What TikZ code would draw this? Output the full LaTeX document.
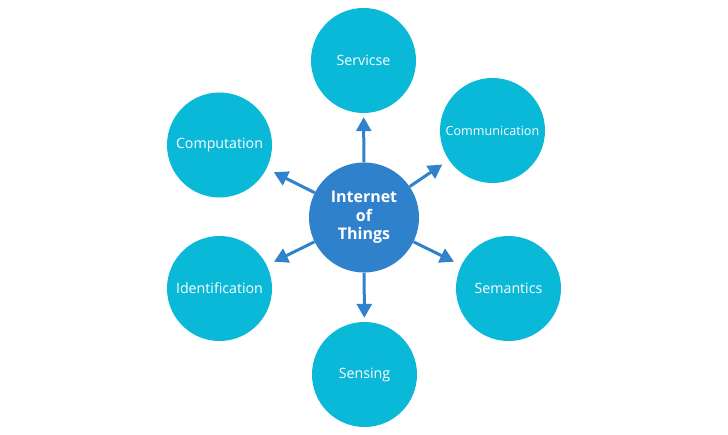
\documentclass[tikz,border=0pt]{standalone}
\usepackage{fontspec}
\setmainfont{Open Sans}
\usetikzlibrary{arrows.meta}
\definecolor{outerc}{HTML}{0AB8D8}
\definecolor{innerc}{HTML}{2F81CC}
\definecolor{arrc}{HTML}{3281CC}
\begin{document}
\begin{tikzpicture}[x=1pt,y=-1pt,
  outer/.style={circle,fill=outerc,minimum size=105pt,inner sep=0pt,text=white,font=\fontsize{14.2}{16}\selectfont},
  inner/.style={circle,fill=innerc,minimum size=110pt,inner sep=0pt,text=white,align=center,font=\fontsize{16}{18.5}\selectfont\bfseries},
  arr/.style={draw=arrc,line width=3pt,-{Triangle[length=14pt,width=15pt]}}]
\useasboundingbox (0,0) rectangle (728,435);
\node[inner] (c) at (364,217.5) {Internet\\of\\Things};
\node[outer] (serv) at (363.5,60.5) {Servicse};
\node[outer,font=\fontsize{12.6}{15}\selectfont] (comm) at (492.5,130.5) {Communication};
\node[outer] (sem) at (508.5,288.5) {Semantics};
\node[outer] (sens) at (364.5,374.5) {Sensing};
\node[outer] (ident) at (219.5,288.5) {Identification};
\node[outer] (comp) at (219.5,145) {Computation};
\draw[arr,shorten >=4pt] (c) -- (serv);
\draw[arr,shorten >=4pt] (c) -- (sens);
\draw[arr,shorten >=8pt] (c) -- (comm);
\draw[arr,shorten >=8pt] (c) -- (sem);
\draw[arr,shorten >=8pt] (c) -- (ident);
\draw[arr,shorten >=8pt] (c) -- (comp);
\end{tikzpicture}
\end{document}
